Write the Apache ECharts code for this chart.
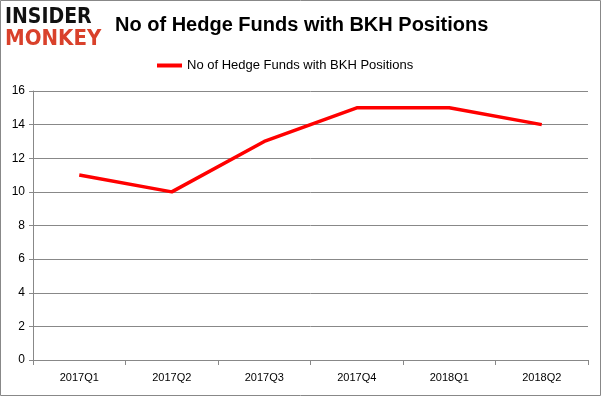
<!DOCTYPE html>
<html><head><meta charset="utf-8">
<script src="https://cdn.jsdelivr.net/npm/echarts@6/dist/echarts.min.js"></script>
<style>html,body{margin:0;padding:0;background:#fff}#c{width:601px;height:396px}</style>
</head><body><div id="c"></div>
<script>
const categories = ['2017Q1','2017Q2','2017Q3','2017Q4','2018Q1','2018Q2'];
const values = [11, 10, 13, 15, 15, 14];
const seriesName = 'No of Hedge Funds with BKH Positions';
const yTicks = {min: 0, max: 16, interval: 2};

const chart = echarts.init(document.getElementById('c'));
chart.setOption({
  animation: false,
  backgroundColor: '#fff',
  title: {
    text: 'No of Hedge Funds with BKH Positions',
    left: 110, top: 10,
    textStyle: {fontFamily: 'Liberation Sans', fontWeight: 'bold', fontSize: 20, color: '#000'}
  },
  graphic: [
    {type: 'rect', shape: {x: 0.5, y: 0.5, width: 600, height: 395}, style: {fill: 'none', stroke: '#888', lineWidth: 1}},
    {type: 'text', left: 5, top: 7, style: {text: 'INSIDER', font: '900 21px "DejaVu Sans Condensed", "DejaVu Sans"', fill: '#111'}},
    {type: 'text', left: 5, top: 28, style: {text: 'MONKEY', font: '900 22px "DejaVu Sans Condensed", "DejaVu Sans"', fill: '#d9412b'}}
  ],
  legend: {
    data: [seriesName],
    top: 54, left: 152,
    itemWidth: 25, itemHeight: 4, itemGap: 4,
    icon: 'rect',
    textStyle: {fontFamily: 'Liberation Sans', fontSize: 13, color: '#000'}
  },
  grid: {left: 33, right: 13, top: 91, bottom: 36, containLabel: false},
  xAxis: {
    type: 'category', data: categories, boundaryGap: true,
    axisLine: {lineStyle: {color: '#888', width: 1}},
    axisTick: {show: true, alignWithLabel: false, length: 5, lineStyle: {color: '#888'}},
    axisLabel: {color: '#000', fontFamily: 'Liberation Sans', fontSize: 11, margin: 12}
  },
  yAxis: {
    type: 'value', min: yTicks.min, max: yTicks.max, interval: yTicks.interval,
    axisLine: {show: true, lineStyle: {color: '#888', width: 1}},
    axisTick: {show: true, length: 4, inside: false, lineStyle: {color: '#888'}},
    splitLine: {lineStyle: {color: '#888', width: 1}},
    axisLabel: {color: '#000', fontFamily: 'Liberation Sans', fontSize: 12, margin: 8}
  },
  series: [{
    name: seriesName, type: 'line', data: values,
    symbol: 'none', lineStyle: {color: '#ff0000', width: 3.5},
    itemStyle: {color: '#ff0000'}
  }]
});
</script></body></html>
